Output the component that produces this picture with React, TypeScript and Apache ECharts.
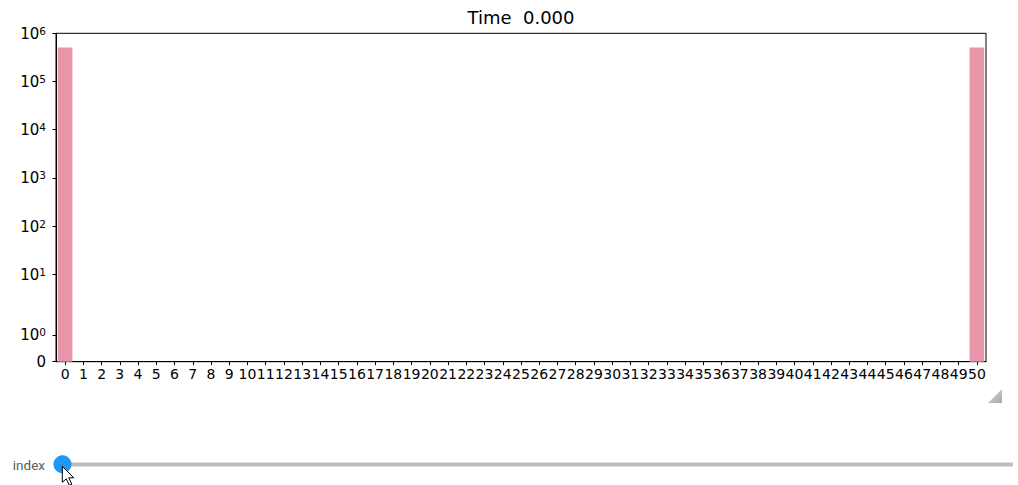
import React, { useEffect, useRef } from "react";
import * as echarts from "echarts";

const categories = [
  "0", "1", "2", "3", "4", "5", "6", "7", "8", "9",
  "10", "11", "12", "13", "14", "15", "16", "17", "18", "19",
  "20", "21", "22", "23", "24", "25", "26", "27", "28", "29",
  "30", "31", "32", "33", "34", "35", "36", "37", "38", "39",
  "40", "41", "42", "43", "44", "45", "46", "47", "48", "49", "50",
];
const values = [
  510000, 0, 0, 0, 0, 0, 0, 0, 0, 0,
  0, 0, 0, 0, 0, 0, 0, 0, 0, 0,
  0, 0, 0, 0, 0, 0, 0, 0, 0, 0,
  0, 0, 0, 0, 0, 0, 0, 0, 0, 0,
  0, 0, 0, 0, 0, 0, 0, 0, 0, 0, 510000,
];
const yTickValues = [0, 1, 10, 100, 1000, 10000, 100000, 1000000];
const yTickExponents = ["", "0", "1", "2", "3", "4", "5", "6"];
const titleText = "Time  0.000";
const sliderLabel = "index";

// symlog transform (linthresh 2, linscale 1, base 10)
const LINTHRESH = 2;
const LINSCALE_ADJ = 1 / (1 - 1 / 10);
const T = (x: number) =>
  x <= LINTHRESH
    ? (x / LINTHRESH) * LINSCALE_ADJ
    : LINSCALE_ADJ + Math.log10(x / LINTHRESH);

const FONT = "DejaVu Sans";

export default function App() {
  const ref = useRef<HTMLDivElement>(null);
  useEffect(() => {
    if (!ref.current) return;
    const chart = echarts.init(ref.current, null, { renderer: "svg" });
    const yTicks = yTickValues.map(T);
    const option: any = {
      animation: false,
      backgroundColor: "#ffffff",
      grid: {
        left: 56,
        right: 32,
        top: 33.3,
        bottom: 123.3,
        show: true,
        borderColor: "#000000",
        borderWidth: 1,
        backgroundColor: "transparent",
        containLabel: false,
        outerBoundsMode: "none",
      },
      xAxis: {
        type: "category",
        data: categories,
        boundaryGap: true,
        axisLine: { show: true, lineStyle: { color: "#000", width: 1 } },
        axisTick: {
          show: true,
          alignWithLabel: true,
          length: 3.5,
          interval: 0,
          lineStyle: { color: "#000", width: 1 },
        },
        axisLabel: {
          interval: 0,
          color: "#000",
          fontFamily: FONT,
          fontSize: 14,
          margin: 5,
        },
        splitLine: { show: false },
      },
      yAxis: {
        type: "value",
        min: 0,
        max: T(1000000),
        axisLine: { show: true, lineStyle: { color: "#000", width: 1 } },
        axisTick: {
          show: true,
          length: 3.5,
          customValues: yTicks,
          lineStyle: { color: "#000", width: 1 },
        },
        splitLine: { show: false },
        axisLabel: {
          customValues: yTicks,
          margin: 10,
          color: "#000",
          fontFamily: FONT,
          fontSize: 15,
          formatter: (v: number) => {
            let idx = 0;
            let best = Infinity;
            yTicks.forEach((t, i) => {
              const d = Math.abs(t - v);
              if (d < best) {
                best = d;
                idx = i;
              }
            });
            if (yTickValues[idx] === 0) return "{z|0}";
            return "{b|10}{s|" + yTickExponents[idx] + "}";
          },
          rich: {
            z: { fontFamily: FONT, fontSize: 15, color: "#000", lineHeight: 16 },
            b: {
              fontFamily: FONT,
              fontSize: 15,
              color: "#000",
              lineHeight: 16,
              verticalAlign: "bottom",
              padding: [4, 0, 0, 0],
            },
            s: {
              fontFamily: FONT,
              fontSize: 10.5,
              color: "#000",
              lineHeight: 12,
              verticalAlign: "top",
            },
          },
        },
      },
      series: [
        {
          type: "bar",
          data: values.map(T),
          barWidth: "80%",
          itemStyle: { color: "#e896a9" },
        },
      ],
      graphic: [
        {
          type: "text",
          x: 521,
          y: 17,
          style: {
            text: titleText,
            fontFamily: FONT,
            fontSize: 18,
            fill: "#000",
            textAlign: "center",
            textVerticalAlign: "middle",
          },
        },
        {
          type: "polygon",
          shape: { points: [[1002, 389], [1002, 403], [988, 403]] },
          style: {
            fill: new echarts.graphic.LinearGradient(0, 0, 1, 1, [
              { offset: 0, color: "#dcdcdc" },
              { offset: 1, color: "#a8a8a8" },
            ]),
          },
        },
        {
          type: "text",
          x: 45,
          y: 464.5,
          style: {
            text: sliderLabel,
            fontFamily: "Roboto",
            fontSize: 13.5,
            fill: "#5a5a5a",
            textAlign: "right",
            textVerticalAlign: "middle",
          },
        },
        {
          type: "rect",
          shape: { x: 62, y: 462.5, width: 951, height: 4 },
          style: { fill: "#bdbdbd" },
        },
        {
          type: "circle",
          shape: { cx: 62.5, cy: 464.3, r: 9 },
          style: { fill: "#2196f3" },
          z: 10,
        },
        {
          type: "polygon",
          x: 62.3,
          y: 466.3,
          shape: {
            points: [
              [0, 0], [0, 16], [4, 12.5], [7, 19], [9.5, 18], [6.5, 11.5], [11.5, 11.5],
            ],
          },
          style: { fill: "#ffffff", stroke: "#000000", lineWidth: 1 },
          z: 20,
        },
      ],
    };
    chart.setOption(option);
    return () => chart.dispose();
  }, []);
  return (
    <div
      ref={ref}
      style={{ position: "fixed", left: 0, top: 0, width: 1018, height: 485 }}
    />
  );
}
